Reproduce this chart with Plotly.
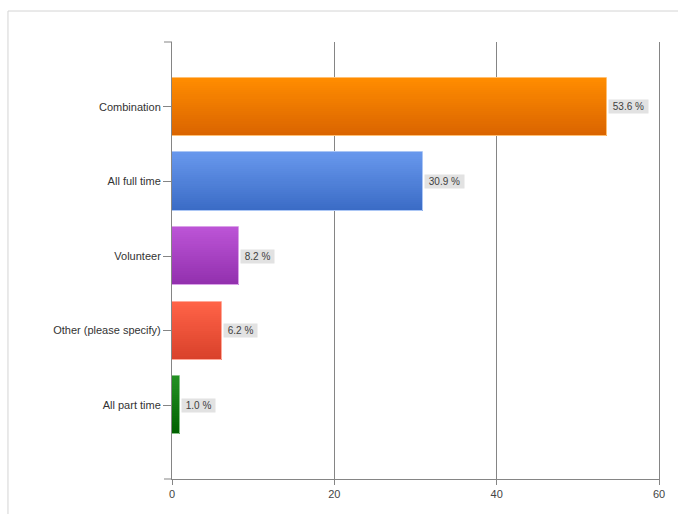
import plotly.graph_objects as go

# Survey responses: staffing model
categories = ["Combination", "All full time", "Volunteer", "Other (please specify)", "All part time"]
percent = [53.6, 30.9, 8.2, 6.2, 1.0]
x_ticks = [0, 20, 40, 60]

# Vertical gradient per bar (top colour -> bottom colour)
top_colors = ["#FF8C00", "#6797EC", "#BC54D6", "#FF6347", "#239023"]
bottom_colors = ["#DA6400", "#3B6CC6", "#9230AE", "#D9412B", "#006000"]

BAR_W = 0.78
SLICES = 28
FONT = "Liberation Sans, Arial, sans-serif"
AXIS_GRAY = "#858585"


def hex_to_rgb(h):
    h = h.lstrip("#")
    return tuple(int(h[i:i + 2], 16) for i in (0, 2, 4))


def mix(c1, c2, t):
    a, b = hex_to_rgb(c1), hex_to_rgb(c2)
    return "rgb({},{},{})".format(*[round(a[i] + (b[i] - a[i]) * t) for i in range(3)])


fig = go.Figure()

# Each slice runs from its own start down to the bar's bottom edge, so the
# stacked overlay produces a seamless top-to-bottom gradient.
for k in range(SLICES):
    t = k / (SLICES - 1)
    step = BAR_W * k / SLICES
    fig.add_trace(go.Bar(
        x=percent,
        y=categories,
        orientation="h",
        width=BAR_W - step,
        offset=-BAR_W / 2 + step,
        marker=dict(color=[mix(tc, bc, t) for tc, bc in zip(top_colors, bottom_colors)],
                    line=dict(width=0)),
        hoverinfo="skip",
        showlegend=False,
    ))

# Light outline around each full bar
fig.add_trace(go.Bar(
    x=percent,
    y=categories,
    orientation="h",
    width=BAR_W,
    offset=-BAR_W / 2,
    marker=dict(color="rgba(0,0,0,0)",
                line=dict(width=1, color=[mix(tc, "#FFFFFF", 0.45) for tc in top_colors])),
    text=[f"{v:.1f} %" for v in percent],
    hoverinfo="x+y",
    textposition="none",
    showlegend=False,
))

# Value labels in grey boxes just past the bar ends
annotations = [
    dict(x=v, y=c, xref="x", yref="y", text=f"\u00a0{v:.1f} %\u00a0",
         showarrow=False, xanchor="left", yanchor="middle", xshift=1,
         bgcolor="#E2E2E2", borderpad=1,
         font=dict(family=FONT, size=10, color="#404040"))
    for c, v in zip(categories, percent)
]

shapes = [
    # outer frame
    dict(type="rect", xref="paper", yref="paper", x0=-0.3368, x1=1.09, y0=-0.12, y1=1.0709,
         line=dict(color="#D4D4D4", width=1), fillcolor="rgba(0,0,0,0)", layer="below"),
    # end ticks at the top and bottom of the category axis
    dict(type="line", xref="paper", yref="paper", x0=-8 / 487, x1=0, y0=1, y1=1,
         line=dict(color=AXIS_GRAY, width=1)),
    dict(type="line", xref="paper", yref="paper", x0=-8 / 487, x1=0, y0=0, y1=0,
         line=dict(color=AXIS_GRAY, width=1)),
]

fig.update_layout(
    width=678, height=514,
    margin=dict(l=172, r=19, t=42, b=35),
    paper_bgcolor="white", plot_bgcolor="white",
    barmode="overlay",
    bargap=0,
    font=dict(family=FONT, size=11, color="#333333"),
    annotations=annotations,
    shapes=shapes,
    xaxis=dict(
        range=[0, 60], tickvals=x_ticks, ticktext=[str(v) for v in x_ticks],
        showgrid=True, gridcolor=AXIS_GRAY, gridwidth=1,
        zeroline=False, showline=True, linecolor=AXIS_GRAY, linewidth=1,
        ticks="outside", ticklen=5, tickcolor=AXIS_GRAY,
        tickfont=dict(family=FONT, size=11, color="#444444"),
        fixedrange=True,
    ),
    yaxis=dict(
        type="category", categoryorder="array", categoryarray=categories,
        range=[4.99, -0.87],
        showgrid=False, zeroline=False, showline=True, mirror=True,
        linecolor=AXIS_GRAY, linewidth=1,
        ticks="outside", ticklen=8, tickcolor=AXIS_GRAY,
        tickfont=dict(family=FONT, size=11, color="#333333"),
        fixedrange=True,
    ),
)

fig.write_html("out.html")
